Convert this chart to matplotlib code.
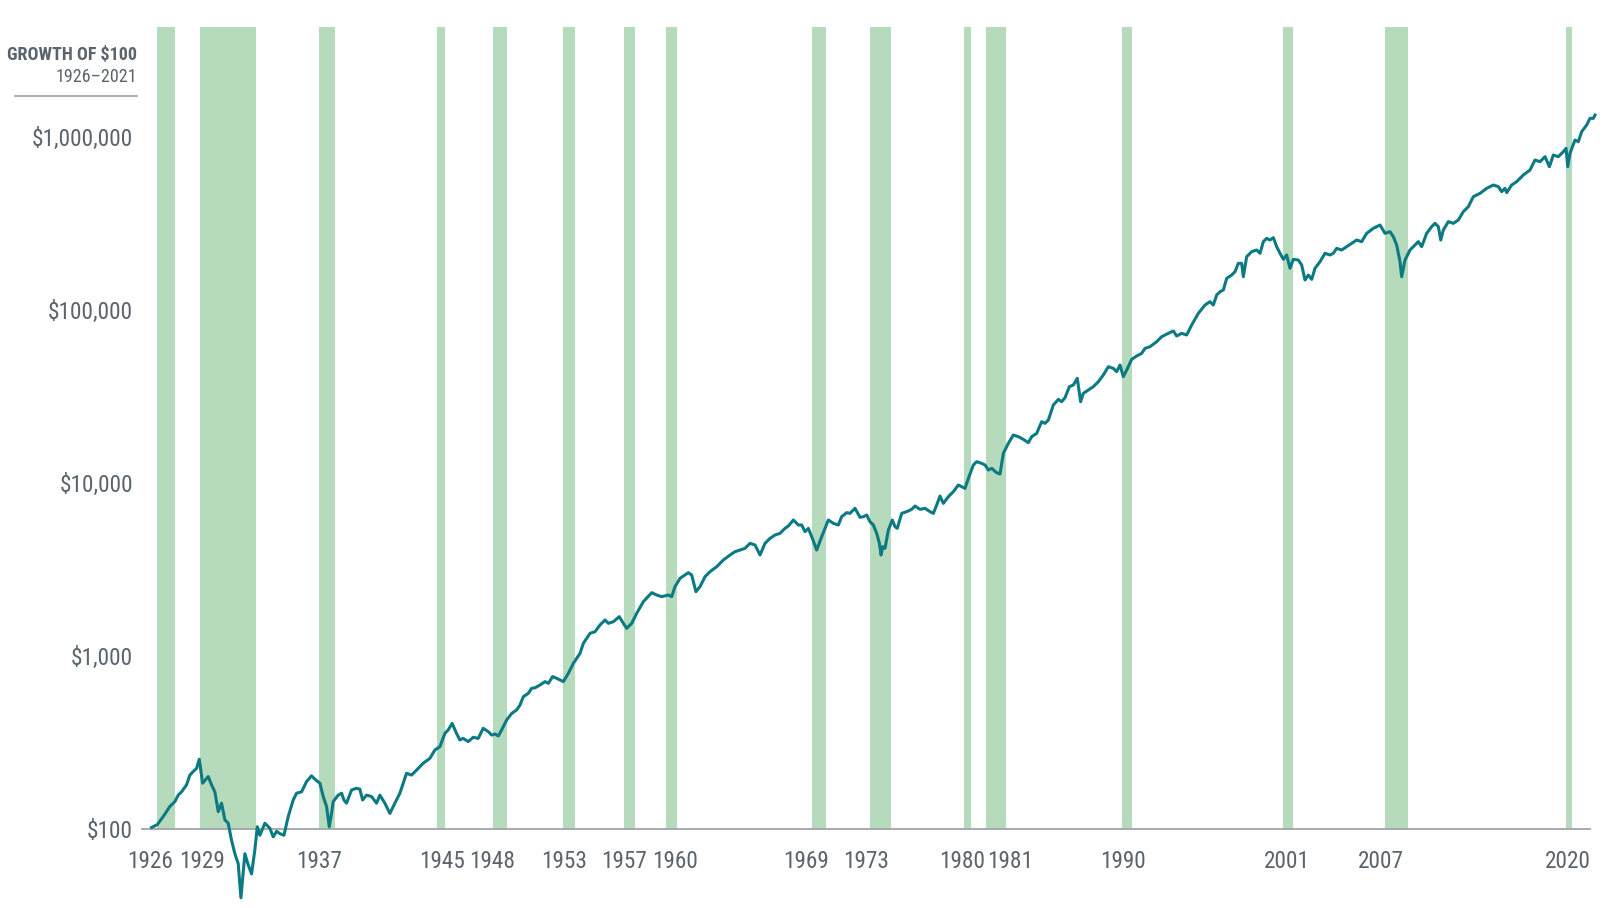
import matplotlib
matplotlib.use('Agg')
import matplotlib.pyplot as plt
import matplotlib.font_manager as fm
from matplotlib.lines import Line2D

# Crecimiento de $100
anios_a = [1926.37, 1926.75, 1927.14, 1927.58, 1927.91, 1928.13, 1928.35, 1928.68, 1928.90, 1929.12,
           1929.34, 1929.52, 1929.74, 1929.92, 1930.11, 1930.33, 1930.55, 1930.77, 1930.99, 1931.21,
           1931.43, 1931.65, 1931.87, 1932.09, 1932.27, 1932.53, 1932.75, 1932.97, 1933.19, 1933.35,
           1933.52, 1933.85, 1934.18, 1934.40, 1934.62, 1934.84, 1935.11, 1935.39, 1935.72, 1935.94,
           1936.27, 1936.60, 1936.93, 1937.15, 1937.48, 1937.70, 1937.92, 1938.10, 1938.25, 1938.36,
           1938.69, 1938.91, 1939.07, 1939.24, 1939.57, 1939.90, 1940.12, 1940.30, 1940.56, 1940.89,
           1941.22, 1941.44, 1941.77, 1942.10, 1942.43, 1942.76, 1943.20, 1943.53, 1943.86, 1944.30,
           1944.74, 1945.07, 1945.40, 1945.73, 1945.95, 1946.21, 1946.50, 1946.72, 1946.94, 1947.27,
           1947.60, 1947.93, 1948.26]
valores_a = [102, 106, 118, 135, 144, 157, 164, 180, 205, 215,
             224, 253, 184, 192, 201, 180, 164, 126, 141, 113,
             108, 86, 72, 63, 40, 72, 62, 55, 76, 103,
             92, 108, 101, 90, 97, 94, 92, 118, 147, 161,
             164, 188, 203, 194, 184, 154, 135, 103, 123, 144,
             157, 161, 147, 141, 168, 172, 170, 147, 157, 154,
             141, 157, 141, 123, 141, 161, 210, 205, 219, 240,
             256, 286, 299, 357, 374, 408, 357, 327, 334, 320,
             339, 334, 382]

anios_b = [1948.60, 1948.82, 1949.04, 1949.26, 1949.48, 1949.81, 1950.14, 1950.47, 1950.69, 1950.91,
           1951.24, 1951.46, 1951.68, 1952.01, 1952.34, 1952.56, 1952.84, 1953.11, 1953.55, 1953.88,
           1954.21, 1954.65, 1954.87, 1955.31, 1955.64, 1955.97, 1956.30, 1956.52, 1956.85, 1957.24,
           1957.51, 1957.73, 1958.06, 1958.39, 1958.83, 1959.38, 1959.71, 1960.04, 1960.48, 1960.70,
           1960.92, 1961.25, 1961.58, 1961.80, 1962.02, 1962.30, 1962.57, 1962.90, 1963.23, 1963.67,
           1964.11, 1964.55, 1964.88, 1965.21, 1965.54, 1965.87, 1966.20, 1966.53, 1966.86, 1967.19,
           1967.52, 1967.85, 1968.18, 1968.40, 1968.73, 1969.06, 1969.28, 1969.50, 1969.72, 1969.94,
           1970.27, 1970.60, 1971.04, 1971.37, 1971.70, 1971.92, 1972.25, 1972.47, 1972.80, 1973.13]
valores_b = [365, 349, 354, 345, 374, 427, 466, 488, 521, 582,
             609, 651, 655, 680, 711, 695, 760, 743, 711, 794,
             907, 1036, 1184, 1352, 1382, 1511, 1615, 1545, 1579, 1688,
             1545, 1445, 1545, 1765, 2061, 2323, 2252, 2203, 2252, 2203,
             2517, 2812, 2940, 3032, 2940, 2354, 2517, 2874, 3073, 3284,
             3588, 3836, 4009, 4100, 4192, 4480, 4382, 3836, 4480, 4788,
             5005, 5118, 5470, 5643, 6112, 5719, 5719, 5232, 5470, 4896,
             4100, 4896, 6112, 5847, 5719, 6388, 6740, 6680, 7139, 6332]

anios_c = [1973.35, 1973.57, 1973.79, 1974.01, 1974.23, 1974.41, 1974.52, 1974.63, 1974.78, 1975.00,
           1975.26, 1975.44, 1975.59, 1975.88, 1976.21, 1976.54, 1976.76, 1977.09, 1977.42, 1977.75,
           1977.97, 1978.19, 1978.41, 1978.63, 1978.96, 1979.29, 1979.62, 1979.84, 1980.06, 1980.28,
           1980.61, 1980.83, 1981.16, 1981.38, 1981.60, 1981.82, 1982.15, 1982.37, 1982.59, 1982.92,
           1983.25, 1983.58, 1983.91, 1984.24, 1984.46, 1984.79, 1985.12, 1985.34, 1985.56, 1985.89,
           1986.22, 1986.44, 1986.66, 1986.95, 1987.21, 1987.47, 1987.69, 1987.87, 1988.20, 1988.53,
           1988.86, 1989.19, 1989.52, 1989.85, 1990.07, 1990.29, 1990.51, 1990.73, 1991.06, 1991.39,
           1991.72, 1991.94, 1992.27, 1992.71, 1993.04, 1993.48, 1993.81, 1994.03, 1994.36, 1994.69,
           1995.02, 1995.46, 1995.90]
valores_c = [6388, 6531, 5976, 5718, 5117, 4479, 3835, 4284, 4191, 5349,
             6110, 5593, 5469, 6676, 6829, 7044, 7362, 7044, 7138, 6829,
             6676, 7460, 8408, 7628, 8335, 8910, 9737, 9524, 9314, 10641,
             12706, 13284, 12992, 12706, 11889, 12155, 11474, 11272, 14842, 16955,
             18941, 18526, 17880, 17109, 18526, 19369, 22619, 22125, 23125, 28235,
             30453, 29522, 31134, 36059, 36865, 40272, 29522, 32985, 34474, 36059,
             38515, 42107, 47033, 46003, 44001, 48084, 41178, 44985, 51854, 54212,
             56170, 60036, 61376, 65605, 70131, 73317, 75620, 70747, 73317, 71708,
             81895, 95660, 106900]

anios_d = [1996.23, 1996.45, 1996.67, 1996.89, 1997.11, 1997.33, 1997.66, 1997.88, 1998.10, 1998.32,
           1998.43, 1998.65, 1998.98, 1999.31, 1999.53, 1999.75, 1999.97, 2000.19, 2000.41, 2000.63,
           2000.85, 2001.07, 2001.29, 2001.51, 2001.73, 2002.06, 2002.28, 2002.50, 2002.72, 2002.94,
           2003.16, 2003.49, 2003.82, 2004.15, 2004.37, 2004.59, 2004.92, 2005.25, 2005.58, 2005.91,
           2006.24, 2006.57, 2007.01, 2007.45, 2007.78, 2008.11, 2008.33, 2008.55, 2008.77, 2008.88,
           2009.10, 2009.43, 2009.76, 2009.98, 2010.20, 2010.53, 2010.86, 2011.08, 2011.30, 2011.46,
           2011.63, 2011.96, 2012.29, 2012.62, 2012.95, 2013.28, 2013.61, 2014.05, 2014.49, 2014.93,
           2015.26, 2015.48, 2015.70, 2015.81, 2016.14, 2016.47, 2016.91, 2017.35, 2017.68, 2018.01,
           2018.34, 2018.63, 2018.89, 2019.22, 2019.55, 2019.73, 2019.84, 2019.99, 2020.32, 2020.54,
           2020.76, 2021.09, 2021.31, 2021.53, 2021.64]
valores_d = [111700, 106900, 122100, 127600, 130500, 152400, 159300, 166600, 186100, 186100,
             155800, 203400, 217400, 222300, 212700, 248400, 259600, 253900, 261900, 232300,
             212700, 196300, 208000, 174200, 196300, 194500, 182000, 149100, 159300, 150400,
             174200, 190300, 212700, 208000, 212700, 227300, 222300, 232300, 242900, 253900,
             248400, 277500, 296600, 310000, 277500, 283700, 265400, 237600, 190300, 155800,
             194500, 222300, 237600, 248400, 232300, 277500, 303100, 317000, 303100, 253900,
             290000, 324100, 317000, 331400, 370300, 395700, 452000, 472500, 505100, 528000,
             516500, 483100, 505100, 476700, 528000, 551900, 603200, 644700, 736300, 720100,
             769800, 673600, 787000, 769800, 822700, 860100, 673600, 804500, 960900, 939800,
             1074000, 1173000, 1282000, 1282000, 1340000]

anios = anios_a + anios_b + anios_c + anios_d
valores = valores_a + valores_b + valores_c + valores_d

# Recesiones (bandas verdes)
rec_inicio = [1926.75, 1929.58, 1937.42, 1945.19, 1948.88, 1953.50, 1957.57, 1960.30,
              1969.94, 1973.79, 1979.99, 1981.45, 1990.40, 2001.03, 2007.78, 2019.71]
rec_fin = [1927.91, 1933.26, 1938.48, 1945.76, 1949.81, 1954.34, 1958.28, 1961.07,
           1970.86, 1975.16, 1980.44, 1982.75, 1991.06, 2001.73, 2009.32, 2020.11]

# Etiquetas del eje X
etiquetas_x = ['1926', '1929', '1937', '1945', '1948', '1953', '1957', '1960',
               '1969', '1973', '1980', '1981', '1990', '2001', '2007', '2020']
pos_x = [1926.26, 1929.68, 1937.44, 1945.53, 1948.82, 1953.62, 1957.57, 1960.92,
         1969.58, 1973.51, 1979.86, 1983.03, 1990.51, 2001.29, 2007.50, 2019.86]

ticks_y = [100, 1000, 10000, 100000, 1000000]
etiquetas_y = ['$100', '$1,000', '$10,000', '$100,000', '$1,000,000']

gris = '#5b646d'
verde = '#b5dabc'
azul_verde = '#0b7a82'


# Buscar una fuente estrecha instalada (el original usa una condensada)
def es_estrecha(f):
    st = f.stretch
    if isinstance(st, str):
        return st in ('condensed', 'semi-condensed', 'extra-condensed', 'ultra-condensed')
    return st < 500


def peso(f):
    w = f.weight
    if isinstance(w, str):
        w = {'normal': 400, 'regular': 400, 'book': 400, 'medium': 500,
             'semibold': 600, 'demibold': 600, 'bold': 700, 'heavy': 800,
             'black': 900, 'light': 300}.get(w, 400)
    return w


estrechas = [f for f in fm.fontManager.ttflist
             if (es_estrecha(f) or 'Narrow' in f.name or 'Condensed' in f.name)
             and f.style == 'normal' and 'Mono' not in f.name and 'Serif' not in f.name]
if estrechas:
    familia = sorted({f.name for f in estrechas})[0]
    for pref in ['Roboto Condensed', 'Liberation Sans Narrow', 'Open Sans Condensed',
                 'Noto Sans', 'DejaVu Sans', 'Roboto', 'Open Sans', 'Lato', 'Inter']:
        if pref in {f.name for f in estrechas}:
            familia = pref
            break
    grupo = [f for f in estrechas if f.name == familia]
    f_reg = min(grupo, key=lambda f: abs(peso(f) - 400)).fname
    f_bold = min(grupo, key=lambda f: abs(peso(f) - 700)).fname
    fp_reg = fm.FontProperties(fname=f_reg)
    fp_bold = fm.FontProperties(fname=f_bold)
else:
    fp_reg = fm.FontProperties(family='DejaVu Sans')
    fp_bold = fm.FontProperties(family='DejaVu Sans', weight='bold')

fig = plt.figure(figsize=(16.22, 9.08), dpi=100)
renderer = fig.canvas.get_renderer()


def tam_ajustado(texto, fp, ancho_px, maximo):
    t = fig.text(0, 0, texto, fontproperties=fp, fontsize=maximo)
    w = t.get_window_extent(renderer).width
    t.remove()
    return min(maximo, maximo * ancho_px / w)


tam_ticks = tam_ajustado('$1,000,000', fp_reg, 101, 19)
tam_titulo = tam_ajustado('GROWTH OF $100', fp_bold, 130, 14)

ax = fig.add_axes([142 / 1622, 1 - 829 / 908, (1590 - 142) / 1622, (829 - 27) / 908])

for a, b in zip(rec_inicio, rec_fin):
    ax.axvspan(a, b, color=verde, lw=0, zorder=0)

ax.plot(anios, valores, color=azul_verde, lw=2.2, zorder=3, clip_on=False,
        solid_joinstyle='round')

ax.set_yscale('log')
ax.set_ylim(100, 10 ** 6.636)
ax.set_xlim(1925.74, 2021.31)

ax.set_yticks(ticks_y)
ax.set_yticklabels(etiquetas_y)
ax.yaxis.set_minor_locator(matplotlib.ticker.NullLocator())
ax.set_xticks(pos_x)
ax.set_xticklabels(etiquetas_x)
ax.tick_params(axis='both', length=0, labelcolor=gris)
ax.tick_params(axis='x', pad=15)
ax.tick_params(axis='y', pad=6.5)
for lbl in ax.get_xticklabels() + ax.get_yticklabels():
    lbl.set_fontproperties(fp_reg)
    lbl.set_fontsize(tam_ticks)

for s in ['top', 'right', 'left']:
    ax.spines[s].set_visible(False)
ax.spines['bottom'].set_color('#9fa4a8')
ax.spines['bottom'].set_linewidth(1.3)
ax.spines['bottom'].set_zorder(2)

# Título en la esquina
fig.text(137 / 1622, 1 - 55 / 908, 'GROWTH OF $100', ha='right', va='center',
         fontproperties=fp_bold, fontsize=tam_titulo, color=gris)
fig.text(137 / 1622, 1 - 77 / 908, '1926–2021', ha='right', va='center',
         fontproperties=fp_reg, fontsize=tam_titulo, color=gris)
fig.add_artist(Line2D([15 / 1622, 137 / 1622], [1 - 96 / 908, 1 - 96 / 908],
                      color='#a5a9ad', lw=1.3))

fig.savefig('out.png', dpi=100)
